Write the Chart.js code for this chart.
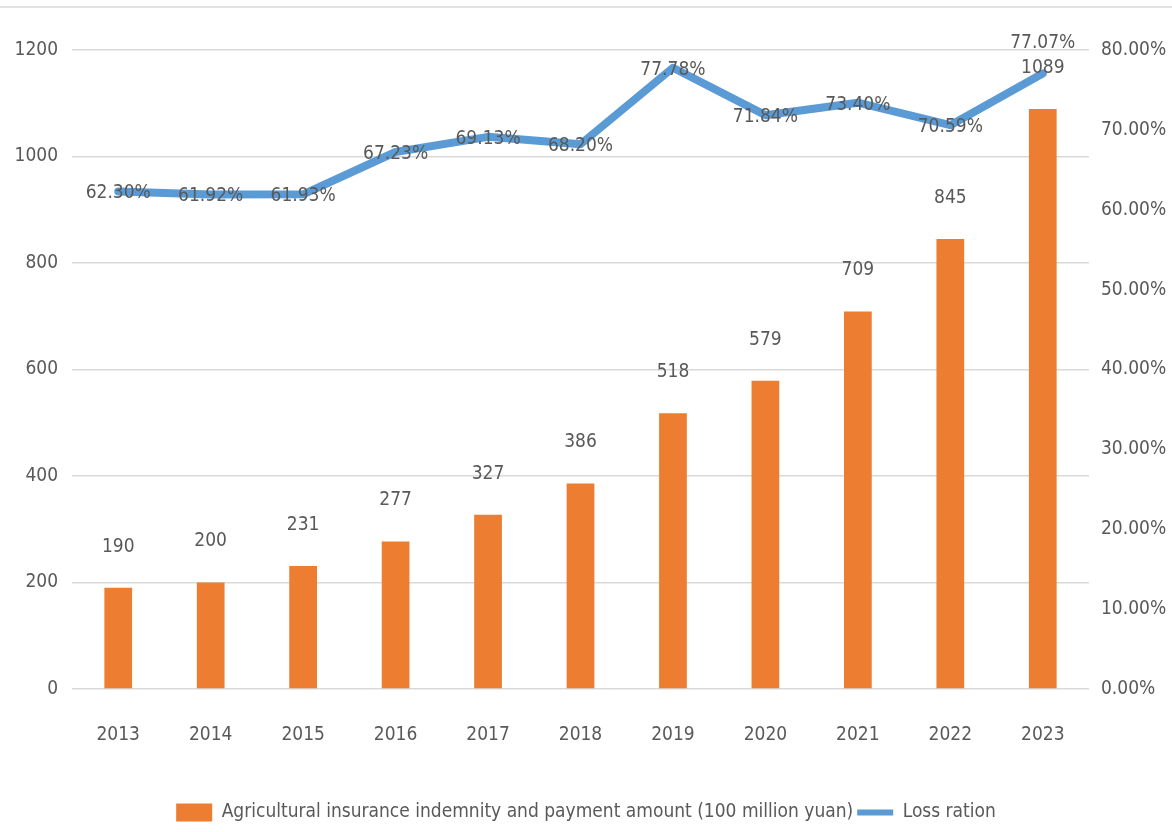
<!DOCTYPE html>
<html>
<head>
<meta charset="utf-8">
<script src="https://cdn.jsdelivr.net/npm/chart.js@4.4.1/dist/chart.umd.min.js"></script>
<style>
  html, body { margin: 0; padding: 0; background: #fff; }
  #wrap { width: 1172px; height: 832px; }
</style>
</head>
<body>
<div id="wrap"><canvas id="claimGraph" width="1172" height="832"></canvas></div>
<script>
let years = ['2013', '2014', '2015', '2016', '2017', '2018', '2019', '2020', '2021', '2022', '2023'];
let payouts = [190, 200, 231, 277, 327, 386, 518, 579, 709, 845, 1089];
let lossRatio = [62.30, 61.92, 61.93, 67.23, 69.13, 68.20, 77.78, 71.84, 73.40, 70.59, 77.07];
let payoutLabel = 'Agricultural insurance indemnity and payment amount (100 million yuan)';
let ratioLabel = 'Loss ration';

let textGray = '#595959';
let fontStack = "'DejaVu Sans Condensed', 'Liberation Sans Narrow', sans-serif";

Chart.defaults.font.family = fontStack;
Chart.defaults.font.size = 19;
Chart.defaults.color = textGray;

// numbers above the bars and percentages on the line
let valueLabels = {
    id: 'valueLabels',
    afterDatasetsDraw(chart) {
        let ctx = chart.ctx;
        ctx.save();
        ctx.font = '19px ' + fontStack;
        ctx.fillStyle = textGray;
        ctx.textAlign = 'center';
        ctx.textBaseline = 'middle';

        chart.getDatasetMeta(0).data.forEach(function(bar, i) {
            ctx.fillText(String(payouts[i]), bar.x, bar.y - 41);
        });

        let last = lossRatio.length - 1;
        chart.getDatasetMeta(1).data.forEach(function(pt, i) {
            let dy = i === last ? -30 : 2;
            ctx.fillText(lossRatio[i].toFixed(2) + '%', pt.x, pt.y + dy);
        });
        ctx.restore();
    }
};

// thin rule across the very top
let topRule = {
    id: 'topRule',
    beforeDraw(chart) {
        let ctx = chart.ctx;
        ctx.save();
        ctx.strokeStyle = '#d9d9d9';
        ctx.lineWidth = 1.5;
        ctx.beginPath();
        ctx.moveTo(0, 7);
        ctx.lineTo(chart.width, 7);
        ctx.stroke();
        ctx.restore();
    }
};

new Chart(document.getElementById('claimGraph'), {
    type: 'bar',
    data: {
        labels: years,
        datasets: [{
            label: payoutLabel,
            data: payouts,
            backgroundColor: '#ed7d31',
            categoryPercentage: 1,
            barPercentage: 0.3,
            yAxisID: 'y',
            order: 1
        }, {
            type: 'line',
            label: ratioLabel,
            data: lossRatio.map(function(v) { return v / 100; }),
            borderColor: '#5b9bd5',
            backgroundColor: '#5b9bd5',
            borderWidth: 8,
            borderJoinStyle: 'round',
            borderCapStyle: 'round',
            pointRadius: 0,
            tension: 0,
            yAxisID: 'y1',
            order: 0
        }]
    },
    options: {
        responsive: false,
        animation: false,
        layout: { padding: { top: 50, bottom: 0 } },
        scales: {
            x: {
                grid: { display: false },
                border: { display: false },
                ticks: { padding: 27, color: textGray },
                afterFit: function(axis) { axis.height = 110; }
            },
            y: {
                position: 'left',
                min: 0,
                max: 1200,
                ticks: {
                    stepSize: 200,
                    padding: 14,
                    color: textGray,
                    callback: function(v) { return String(v); }
                },
                grid: { color: '#d9d9d9', lineWidth: 1.5, drawTicks: false },
                border: { display: false },
                afterFit: function(axis) { axis.width = 72; }
            },
            y1: {
                position: 'right',
                min: 0,
                max: 0.8,
                ticks: {
                    stepSize: 0.1,
                    padding: 12,
                    color: textGray,
                    callback: function(v) { return (v * 100).toFixed(2) + '%'; }
                },
                grid: { display: false, drawTicks: false },
                border: { display: false },
                afterFit: function(axis) { axis.width = 83; }
            }
        },
        plugins: {
            tooltip: { enabled: false },
            legend: {
                position: 'bottom',
                labels: {
                    usePointStyle: true,
                    pointStyleWidth: 36,
                    boxHeight: 18,
                    padding: 4,
                    color: textGray,
                    sort: function(a, b) { return a.datasetIndex - b.datasetIndex; },
                    generateLabels: function(chart) {
                        let items = Chart.defaults.plugins.legend.labels.generateLabels(chart);
                        items.forEach(function(item) {
                            if (item.datasetIndex === 1) {
                                item.pointStyle = 'line';
                                item.lineWidth = 6;
                            } else {
                                item.pointStyle = 'rect';
                                item.lineWidth = 0;
                            }
                        });
                        return items;
                    }
                }
            }
        }
    },
    plugins: [valueLabels, topRule]
});
</script>
</body>
</html>
